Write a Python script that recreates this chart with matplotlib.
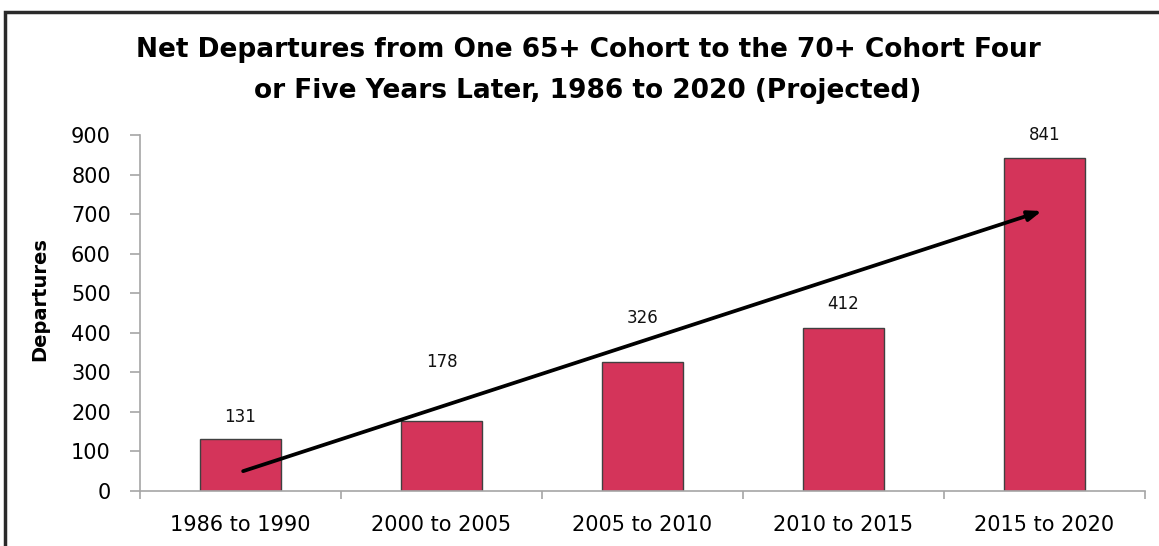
import matplotlib

matplotlib.use("Agg")
import matplotlib.pyplot as plt
from matplotlib.patches import Rectangle

periods = ["1986 to 1990", "2000 to 2005", "2005 to 2010", "2010 to 2015", "2015 to 2020"]
departures = [131, 178, 326, 412, 841]
# where each value label sits (data units), as placed in the original
label_y = [187, 326, 437, 472, 899]
yticks = list(range(0, 1000, 100))
trend_start = (0, 48)
trend_end = (4, 710)

BAR_COLOR = "#d4345a"
AXIS_GRAY = "#a6a6a6"

plt.rcParams["font.family"] = ["DejaVu Sans"]

fig = plt.figure(figsize=(11.59, 5.46), dpi=100)
ax = fig.add_axes([140 / 1159, 1 - 491 / 546, 1005 / 1159, 356 / 546])

x = range(len(periods))
ax.bar(x, departures, width=0.4, color=BAR_COLOR, edgecolor="#404040", linewidth=1.0, zorder=2)

for i, (v, ly) in enumerate(zip(departures, label_y)):
    ax.text(i, ly, str(v), ha="center", va="center", fontsize=12, color="#111111")

ax.annotate(
    "", xy=trend_end, xytext=trend_start,
    arrowprops=dict(arrowstyle="-|>,head_length=0.8,head_width=0.3", color="black", lw=2.7),
    zorder=3,
)

ax.set_xlim(-0.5, len(periods) - 0.5)
ax.set_ylim(0, 900)
ax.set_yticks(yticks)
ax.set_xticks(list(x))
ax.set_xticklabels(periods)
ax.set_xticks([i + 0.5 for i in range(-1, len(periods))], minor=True)
ax.tick_params(axis="x", which="major", length=0, pad=17, labelsize=15)
ax.tick_params(axis="x", which="minor", length=6, color=AXIS_GRAY, width=1.2)
ax.tick_params(axis="y", length=7, color=AXIS_GRAY, width=1.2, labelsize=15, pad=14)
for side in ("top", "right"):
    ax.spines[side].set_visible(False)
for side in ("left", "bottom"):
    ax.spines[side].set_color(AXIS_GRAY)
    ax.spines[side].set_linewidth(1.2)

ax.set_ylabel("Departures", fontsize=14, fontweight="bold")
ax.yaxis.set_label_coords(-0.0905, 0.54)

fig.text(588 / 1159, 1 - 50 / 546, "Net Departures from One 65+ Cohort to the 70+ Cohort Four",
         ha="center", va="center", fontsize=19, fontweight="bold")
fig.text(588 / 1159, 1 - 91 / 546, "or Five Years Later, 1986 to 2020 (Projected)",
         ha="center", va="center", fontsize=19, fontweight="bold")

# chart frame
fig.patches.append(Rectangle((5 / 1159, -0.1), 1.2, 1 - 12 / 546 + 0.1,
                             transform=fig.transFigure, fill=False,
                             edgecolor="#2a2a2a", linewidth=2.5))

fig.savefig("out.png", dpi=100)
